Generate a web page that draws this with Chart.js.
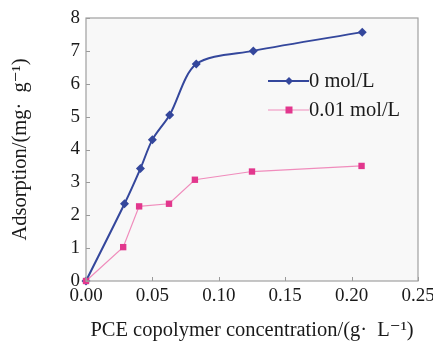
<!DOCTYPE html>
<html>
<head>
<meta charset="utf-8">
<script src="https://cdn.jsdelivr.net/npm/chart.js@4.4.1/dist/chart.umd.min.js"></script>
<style>
  html, body { margin: 0; padding: 0; background: #ffffff; overflow: hidden; }
  #wrap { width: 460px; height: 349px; position: relative; }
</style>
</head>
<body>
<div id="wrap"><canvas id="c" width="460" height="349"></canvas></div>
<script>
// ---- data ----
const seriesNames = ['0 mol/L', '0.01 mol/L'];
const xBlue = [0, 0.029, 0.041, 0.050, 0.063, 0.083, 0.126, 0.208];
const yBlue = [0, 2.35, 3.42, 4.30, 5.05, 6.60, 7.00, 7.57];
const xPink = [0, 0.028, 0.040, 0.0625, 0.082, 0.125, 0.2075];
const yPink = [0, 1.03, 2.27, 2.35, 3.08, 3.33, 3.50];
const xTicks = [0, 0.05, 0.10, 0.15, 0.20, 0.25];
const yTicks = [0, 1, 2, 3, 4, 5, 6, 7, 8];
const xTitle = 'PCE copolymer concentration/(g\u00B7  L\u207B\u00B9)';
const yTitle = 'Adsorption/(mg\u00B7  g\u207B\u00B9)';

const FONT = "'Liberation Serif', 'Times New Roman', 'DejaVu Serif', serif";
const BLUE = '#34479c';
const PINK_LINE = '#f08cbc';
const PINK_MARK = '#e2378d';

function pts(xs, ys) { return xs.map((x, i) => ({ x: x, y: ys[i] })); }

const frameAndTicks = {
  id: 'frameAndTicks',
  beforeDraw(chart) {
    const { ctx, chartArea: a } = chart;
    ctx.save();
    ctx.fillStyle = '#f8f8f8';
    ctx.fillRect(a.left, a.top, a.right - a.left, a.bottom - a.top);
    ctx.restore();
  },
  afterDatasetsDraw(chart) {
    const { ctx, chartArea: a, scales } = chart;
    ctx.save();
    ctx.strokeStyle = '#9a9a9a';
    ctx.lineWidth = 1;
    ctx.beginPath();
    xTicks.forEach(v => {
      const px = Math.round(scales.x.getPixelForValue(v)) + 0.5;
      ctx.moveTo(px, a.bottom);
      ctx.lineTo(px, a.bottom - 4);
    });
    yTicks.forEach(v => {
      const py = Math.round(scales.y.getPixelForValue(v)) + 0.5;
      ctx.moveTo(a.left, py);
      ctx.lineTo(a.left + 4, py);
    });
    ctx.stroke();
    ctx.strokeStyle = '#a0a0a0';
    ctx.lineWidth = 1.2;
    ctx.strokeRect(a.left, a.top, a.right - a.left, a.bottom - a.top);
    ctx.restore();
  }
};

const insideLegend = {
  id: 'insideLegend',
  afterDraw(chart) {
    const { ctx } = chart;
    const rows = [
      { y: 81, ds: chart.data.datasets[0] },
      { y: 110, ds: chart.data.datasets[1] }
    ];
    ctx.save();
    rows.forEach(r => {
      ctx.strokeStyle = r.ds.borderColor;
      ctx.lineWidth = r.ds.borderWidth;
      ctx.beginPath();
      ctx.moveTo(268, r.y);
      ctx.lineTo(309, r.y);
      ctx.stroke();
      ctx.fillStyle = r.ds.pointBackgroundColor;
      const cx = 289;
      if (r.ds.pointStyle === 'rectRot') {
        const s = 4;
        ctx.beginPath();
        ctx.moveTo(cx, r.y - s); ctx.lineTo(cx + s, r.y); ctx.lineTo(cx, r.y + s); ctx.lineTo(cx - s, r.y);
        ctx.closePath(); ctx.fill();
      } else {
        ctx.fillRect(cx - 3.5, r.y - 3.5, 7, 7);
      }
      ctx.fillStyle = '#1a1a1a';
      ctx.font = '20.5px ' + FONT;
      ctx.textBaseline = 'middle';
      ctx.textAlign = 'left';
      ctx.fillText(r.ds.label, 309, r.y + 1);
    });
    ctx.restore();
  }
};

new Chart(document.getElementById('c'), {
  type: 'scatter',
  data: {
    datasets: [
      {
        label: seriesNames[0],
        data: pts(xBlue, yBlue),
        showLine: true,
        borderColor: BLUE,
        borderWidth: 2,
        tension: 0.3,
        pointStyle: 'rectRot',
        pointRadius: 4.5,
        pointBackgroundColor: BLUE,
        pointBorderColor: BLUE,
        pointBorderWidth: 0,
        clip: false,
        order: 2
      },
      {
        label: seriesNames[1],
        data: pts(xPink, yPink),
        showLine: true,
        borderColor: PINK_LINE,
        borderWidth: 1.2,
        tension: 0,
        pointStyle: 'rect',
        pointRadius: 4.5,
        pointBackgroundColor: PINK_MARK,
        pointBorderColor: PINK_MARK,
        pointBorderWidth: 0,
        clip: false,
        order: 1
      }
    ]
  },
  options: {
    responsive: false,
    animation: false,
    layout: { padding: { left: 0, right: 42, top: 18, bottom: 0 } },
    plugins: {
      legend: { display: false },
      tooltip: { enabled: false }
    },
    scales: {
      x: {
        type: 'linear',
        min: 0, max: 0.25,
        afterBuildTicks(s) { s.ticks = xTicks.map(v => ({ value: v })); },
        afterFit(s) { s.height = 68; },
        grid: { display: false, drawTicks: false },
        border: { display: false },
        ticks: {
          color: '#1a1a1a',
          font: { family: FONT, size: 19 },
          padding: 4,
          maxRotation: 0,
          callback: v => v.toFixed(2)
        },
        title: {
          display: true,
          text: xTitle,
          color: '#1a1a1a',
          font: { family: FONT, size: 20.5 },
          padding: { top: 0, bottom: 6 }
        }
      },
      y: {
        type: 'linear',
        min: 0, max: 8,
        afterBuildTicks(s) { s.ticks = yTicks.map(v => ({ value: v })); },
        afterFit(s) { s.width = 86; },
        grid: { display: false, drawTicks: false },
        border: { display: false },
        ticks: {
          color: '#1a1a1a',
          font: { family: FONT, size: 19 },
          padding: 6,
          callback: v => String(v)
        },
        title: {
          display: true,
          text: yTitle,
          color: '#1a1a1a',
          font: { family: FONT, size: 20.5 },
          padding: { top: 8, bottom: 0 }
        }
      }
    }
  },
  plugins: [frameAndTicks, insideLegend]
});
</script>
</body>
</html>
